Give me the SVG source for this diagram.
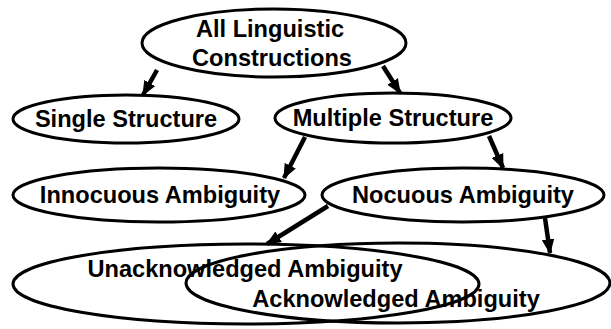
<svg xmlns="http://www.w3.org/2000/svg" width="611" height="329" viewBox="0 0 611 329">
<style>
.node ellipse{fill:#fff;stroke:#000;stroke-width:3}
.open ellipse{fill:none}
text{font-family:"Liberation Sans",Arial,sans-serif;font-weight:bold;font-size:23.6px;fill:#000;text-anchor:middle}
.edge{stroke:#000;stroke-width:4.5;fill:none;marker-end:url(#ah)}
</style>
<defs>
<marker id="ah" viewBox="0 0 12 10" refX="11" refY="5" markerWidth="15" markerHeight="13" markerUnits="userSpaceOnUse" orient="auto">
<path d="M0,0 L12,5 L0,10 Z" fill="#000"/>
</marker>
</defs>
<g id="all">
<g class="node"><ellipse cx="274" cy="43" rx="132" ry="34"/></g>
<text x="270" y="37">All Linguistic</text>
<text x="272" y="66">Constructions</text>
</g>
<g id="single" class="node"><ellipse cx="126" cy="119" rx="113" ry="24"/><text x="126" y="127">Single Structure</text></g>
<g id="multiple" class="node"><ellipse cx="393" cy="118" rx="118" ry="25"/><text x="393" y="126">Multiple Structure</text></g>
<g id="innocuous" class="node"><ellipse cx="159" cy="195" rx="146" ry="27"/><text x="160" y="203">Innocuous Ambiguity</text></g>
<g id="nocuous" class="node"><ellipse cx="463" cy="195" rx="141" ry="27"/><text x="463" y="203">Nocuous Ambiguity</text></g>
<g id="unacknowledged" class="node open"><ellipse cx="246" cy="284" rx="233" ry="40"/><text x="245" y="277">Unacknowledged Ambiguity</text></g>
<g id="acknowledged" class="node open"><ellipse cx="398" cy="283" rx="212" ry="40"/><text x="396" y="307">Acknowledged Ambiguity</text></g>
<g id="connectors">
<line class="edge" x1="157" y1="70" x2="143" y2="95"/>
<line class="edge" x1="383" y1="66" x2="400" y2="93"/>
<line class="edge" x1="305" y1="137" x2="284" y2="178"/>
<line class="edge" x1="489" y1="136" x2="503" y2="168"/>
<line class="edge" x1="328" y1="206" x2="267" y2="244"/>
<line class="edge" x1="545" y1="218" x2="550" y2="253"/>
</g>
</svg>
